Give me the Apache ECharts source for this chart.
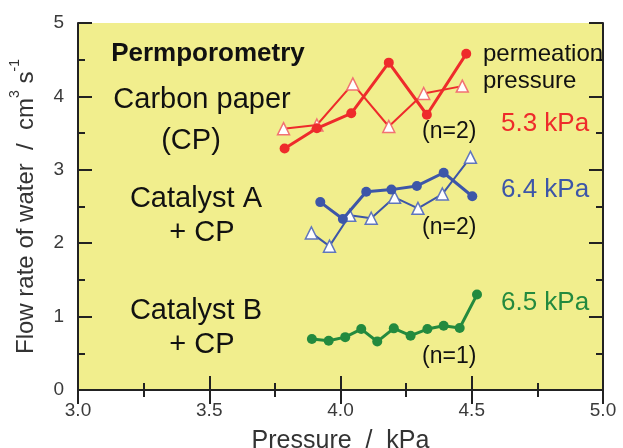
<!DOCTYPE html>
<html>
<head>
<meta charset="utf-8">
<script src="https://cdn.jsdelivr.net/npm/echarts@6/dist/echarts.min.js"></script>
<style>
  html, body { margin: 0; padding: 0; background: #fff; }
  #chart { width: 623px; height: 448px; }
</style>
</head>
<body>
<div id="chart"></div>
<script>
// Carbon paper (CP) - filled circles / open triangles
const cpCircleX = [3.787, 3.910, 4.041, 4.184, 4.329, 4.479]
const cpCircleY = [3.29, 3.565, 3.77, 4.46, 3.75, 4.58]
const cpTriX = [3.783, 3.910, 4.047, 4.184, 4.317, 4.464]
const cpTriY = [3.56, 3.61, 4.17, 3.59, 4.04, 4.14]

// Catalyst A + CP
const aCircleX = [3.923, 4.009, 4.098, 4.194, 4.291, 4.393, 4.502]
const aCircleY = [2.56, 2.33, 2.70, 2.73, 2.78, 2.96, 2.64]
const aTriX = [3.889, 3.958, 4.035, 4.117, 4.206, 4.295, 4.388, 4.495]
const aTriY = [2.14, 1.96, 2.38, 2.34, 2.625, 2.475, 2.67, 3.17]

// Catalyst B + CP
const bCircleX = [3.891, 3.955, 4.018, 4.079, 4.140, 4.203, 4.267, 4.331, 4.393, 4.454, 4.520]
const bCircleY = [0.695, 0.67, 0.72, 0.83, 0.66, 0.84, 0.74, 0.83, 0.876, 0.845, 1.30]

const xTicks = [3.0, 3.5, 4.0, 4.5, 5.0]
const yTicks = [0, 1, 2, 3, 4, 5]

const RED = '#ee2b2b'
const BLUE = '#3d56a8'
const GREEN = '#238a3e'
const FONT = 'Liberation Sans, Arial, sans-serif'

const pairs = (xs, ys) => xs.map((x, i) => [x, ys[i]])

const chart = echarts.init(document.getElementById('chart'))

const axisCommon = {
    axisLine: { show: true, lineStyle: { color: '#222', width: 2 } },
    axisTick: { show: true, inside: true, length: 14, lineStyle: { color: '#222', width: 2 } },
    minorTick: { show: true, splitNumber: 2, length: 7, lineStyle: { color: '#222', width: 2 } },
    splitLine: { show: false }
}

const circleSeries = (name, data, color) => ({
    name,
    type: 'line',
    data,
    symbol: 'circle',
    symbolSize: 10,
    lineStyle: { color, width: 3 },
    itemStyle: { color },
    z: 3
})

const triSeries = (name, data, color, border) => ({
    name,
    type: 'line',
    data,
    symbol: 'triangle',
    symbolSize: 12,
    lineStyle: { color, width: 2 },
    itemStyle: { color: '#fff', borderColor: border, borderWidth: 1.5 },
    z: 2
})

const txt = (x, y, text, size, color, opts = {}) => ({
    type: 'text',
    x, y,
    style: Object.assign({
        text,
        fontSize: size,
        fontFamily: FONT,
        fill: color,
        textAlign: 'center',
        textVerticalAlign: 'middle'
    }, opts),
    z: 10
})

chart.setOption({
    animation: false,
    backgroundColor: '#fff',
    grid: {
        left: 78, right: 20, top: 23, bottom: 58,
        outerBoundsMode: 'none', containLabel: false,
        show: true, backgroundColor: '#f1ee8d', borderWidth: 0
    },
    xAxis: [
        Object.assign({
            type: 'value', min: 3, max: 5, interval: 0.5, position: 'bottom',
            axisLabel: {
                color: '#3a3a3a', fontSize: 19, fontFamily: FONT, margin: 11,
                formatter: v => xTicks.includes(v) ? v.toFixed(1) : ''
            },
            name: 'Pressure  /  kPa', nameLocation: 'middle', nameGap: 39,
            nameTextStyle: { color: '#333', fontSize: 25, fontFamily: FONT, verticalAlign: 'top' }
        }, axisCommon),
        Object.assign({
            type: 'value', min: 3, max: 5, interval: 0.5, position: 'top',
            axisLabel: { show: false }
        }, axisCommon)
    ],
    yAxis: [
        Object.assign({
            type: 'value', min: 0, max: 5, interval: 1, position: 'left',
            axisLabel: {
                color: '#3a3a3a', fontSize: 19, fontFamily: FONT, margin: 14,
                formatter: v => yTicks.includes(v) ? String(v) : ''
            },
            name: '{m|Flow rate of water  /  cm}{s|3}{m| s}{s|-1}',
            nameLocation: 'middle', nameGap: 40, nameRotate: 90,
            nameTextStyle: {
                color: '#333', fontFamily: FONT,
                rich: {
                    m: { fontSize: 24, fontFamily: FONT, color: '#333', lineHeight: 30, verticalAlign: 'bottom' },
                    s: { fontSize: 14, fontFamily: FONT, color: '#333', lineHeight: 30, verticalAlign: 'top' }
                }
            }
        }, axisCommon),
        Object.assign({
            type: 'value', min: 0, max: 5, interval: 1, position: 'right',
            axisLabel: { show: false }
        }, axisCommon)
    ],
    series: [
        triSeries('CP open', pairs(cpTriX, cpTriY), RED, '#f27272'),
        circleSeries('CP', pairs(cpCircleX, cpCircleY), RED),
        triSeries('A open', pairs(aTriX, aTriY), BLUE, '#6076bd'),
        circleSeries('A', pairs(aCircleX, aCircleY), BLUE),
        circleSeries('B', pairs(bCircleX, bCircleY), GREEN)
    ],
    graphic: [
        txt(208, 54, 'Permporometry', 26, '#111', { fontWeight: 'bold' }),
        txt(202, 100, 'Carbon paper', 29, '#111'),
        txt(191, 141, '(CP)', 29, '#111'),
        txt(196, 199, 'Catalyst A', 29, '#111'),
        txt(202, 233, '+ CP', 29, '#111'),
        txt(196, 311, 'Catalyst B', 29, '#111'),
        txt(202, 345, '+ CP', 29, '#111'),
        txt(483, 54, 'permeation', 24, '#111', { textAlign: 'left' }),
        txt(483, 81, 'pressure', 24, '#111', { textAlign: 'left' }),
        txt(501, 124, '5.3 kPa', 26, RED, { textAlign: 'left' }),
        txt(501, 190, '6.4 kPa', 26, BLUE, { textAlign: 'left' }),
        txt(501, 303, '6.5 kPa', 26, GREEN, { textAlign: 'left' }),
        txt(422, 132, '(n=2)', 23, '#111', { textAlign: 'left' }),
        txt(422, 228, '(n=2)', 23, '#111', { textAlign: 'left' }),
        txt(422, 357, '(n=1)', 23, '#111', { textAlign: 'left' })
    ]
})
</script>
</body>
</html>
